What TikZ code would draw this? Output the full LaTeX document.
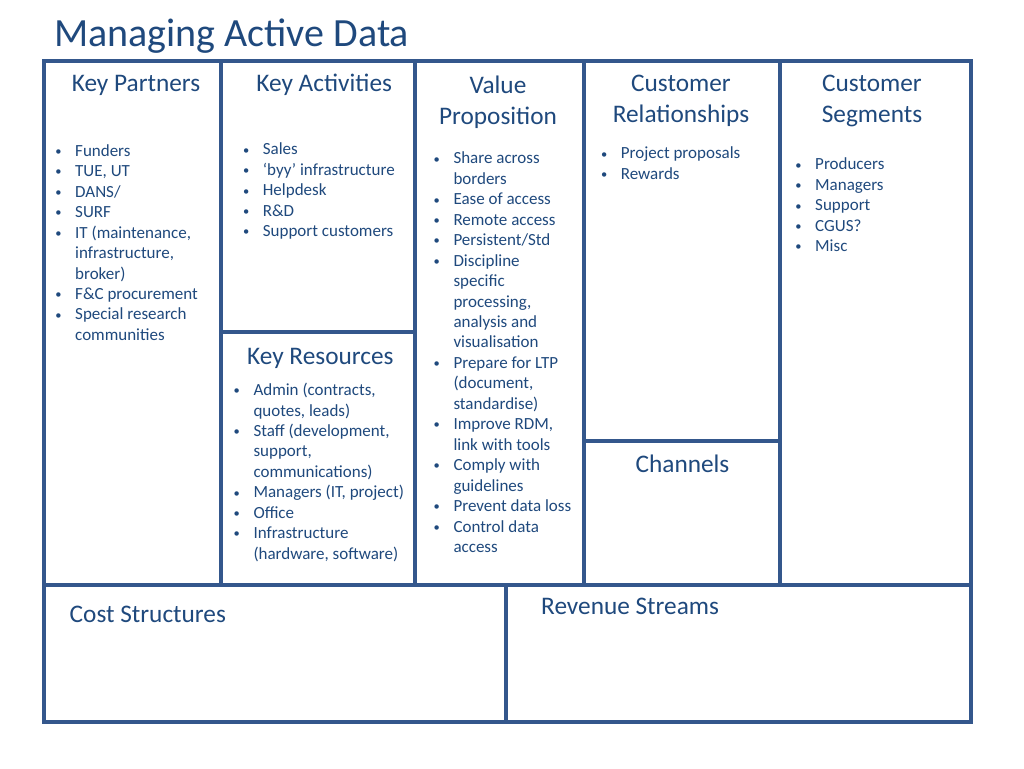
\documentclass[tikz,border=0pt]{standalone}
\usepackage{fontspec}
\setmainfont{Carlito}
\definecolor{txt}{HTML}{1F497D}
\definecolor{ln}{HTML}{34578C}
\tikzset{x=1pt,y=-1pt,
 box/.style={draw=ln,line width=3.2pt},
 headc/.style={text=txt,font=\fontsize{25.3}{30.7}\selectfont,inner sep=0,align=center,anchor=north},
 headb/.style={text=txt,font=\fontsize{25.3}{30.7}\selectfont,inner sep=0},
 lst/.style={text=txt,font=\fontsize{17}{20.45}\selectfont,inner sep=0,align=left,anchor=north west}}
\newcommand\itm{\makebox[21pt][l]{\hspace{1.2pt}\raisebox{0.8pt}{\fontsize{12.5}{12.5}\selectfont •}}}
\newcommand\cnt{\hspace*{21pt}}
\begin{document}
\begin{tikzpicture}
\useasboundingbox (0,0) rectangle (1024,768);
\fill[white] (0,0) rectangle (1024,768);
\node[anchor=base west,text=txt,font=\fontsize{40}{48}\selectfont,inner sep=0] (title) at (54,47) {Managing Active Data};
% boxes
\draw[box] (44,61) rectangle (221,585);
\draw[box] (221,61) rectangle (415,332);
\draw[box] (221,332) rectangle (415,585);
\draw[box] (415,61) rectangle (584,585);
\draw[box] (584,61) rectangle (780,441);
\draw[box] (584,441) rectangle (780,585);
\draw[box] (780,61) rectangle (971,585);
\draw[box] (44,585) rectangle (506,722);
\draw[box] (506,585) rectangle (971,722);
% headers
\node[headb,anchor=base] (hkp) at (136,91.5) {Key Partners};
\node[headb,anchor=base] (hka) at (324.2,91) {Key Activities};
\node[headc] (hvp) at (498,71.8) {\strut Value\\Proposition};
\node[headc] (hcr) at (681,69.8) {\strut Customer\\Relationships};
\node[headc] (hcs) at (872,69.8) {\strut Customer\\Segments};
\node[headb,anchor=base] (hkr) at (320.3,364.8) {Key Resources};
\node[headb,anchor=base] (hch) at (682.5,472.8) {Channels};
\node[headb,anchor=base west] (hcost) at (69.5,622.8) {Cost Structures};
\node[headb,anchor=base west] (hrev) at (541,614.5) {Revenue Streams};
% lists
\node[lst] (lkp) at (54,141.8) {\itm\strut Funders\\\itm TUE, UT\\\itm DANS/\\\itm SURF\\\itm IT (maintenance,\\\cnt infrastructure,\\\cnt broker)\\\itm F\&C procurement\\\itm Special research\\\cnt communities};
\node[lst] (lka) at (241.7,140.4) {\itm\strut Sales\\\itm ‘byy’ infrastructure\\\itm Helpdesk\\\itm R\&D\\\itm Support customers};
\node[lst] (lvp) at (432.3,149.4) {\itm\strut Share across\\\cnt borders\\\itm Ease of access\\\itm Remote access\\\itm Persistent/Std\\\itm Discipline\\\cnt specific\\\cnt processing,\\\cnt analysis and\\\cnt visualisation\\\itm Prepare for LTP\\\cnt (document,\\\cnt standardise)\\\itm Improve RDM,\\\cnt link with tools\\\itm Comply with\\\cnt guidelines\\\itm Prevent data loss\\\itm Control data\\\cnt access};
\node[lst] (lcr) at (599.7,144.4) {\itm\strut Project proposals\\\itm Rewards};
\node[lst] (lcs) at (794,155.4) {\itm\strut Producers\\\itm Managers\\\itm Support\\\itm CGUS?\\\itm Misc};
\node[lst] (lkr) at (232.3,381.1) {\itm\strut Admin (contracts,\\\cnt quotes, leads)\\\itm Staff (development,\\\cnt support,\\\cnt communications)\\\itm Managers (IT, project)\\\itm Office\\\itm Infrastructure\\\cnt (hardware, software)};
\end{tikzpicture}
\end{document}
